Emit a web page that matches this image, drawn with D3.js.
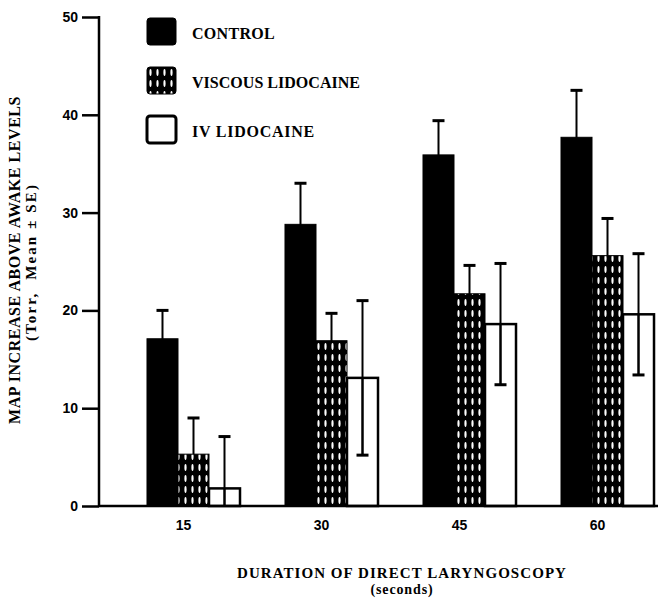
<!DOCTYPE html>
<html>
<head>
<meta charset="utf-8">
<script src="https://cdn.jsdelivr.net/npm/d3@7"></script>
<style>
    body { margin: 0; background: white; }
    text { font-family: "Liberation Serif", serif; font-weight: bold; fill: black; }
</style>
</head>
<body>
<script>
//Variables
    const width = 661;
    const height = 601;

//Data
    const durations = [15, 30, 45, 60];
    const groups = ["CONTROL", "VISCOUS LIDOCAINE", "IV LIDOCAINE"];
    const controlMean = [17.1, 28.8, 35.9, 37.7];
    const controlSE = [2.9, 4.2, 3.5, 4.8];
    const viscousMean = [5.3, 16.9, 21.7, 25.6];
    const viscousSE = [3.7, 2.8, 2.9, 3.8];
    const ivMean = [1.8, 13.1, 18.6, 19.6];
    const ivSE = [5.3, 7.9, 6.2, 6.2];
    const yTicks = [0, 10, 20, 30, 40, 50];

    const means = [controlMean, viscousMean, ivMean];
    const ses = [controlSE, viscousSE, ivSE];
    const data = [];
    durations.forEach((d, i) => {
        groups.forEach((g, j) => {
            data.push({duration: d, group: g, mean: means[j][i], se: ses[j][i]});
        });
    });

//Spread a text's letters so it spans a given width (the scan has wide type)
    const fitSpacing = (sel, target) => {
        sel.each(function() {
            const node = d3.select(this);
            const len = this.getComputedTextLength();
            const n = node.text().length;
            node.style("letter-spacing", `${Math.max(0, (target - len) / n)}px`);
        });
    };

//SVG creation
    const svg = d3.select("body")
        .append("svg")
        .attr("width", width)
        .attr("height", height)
        .style("background-color", "white");

//Pattern for viscous lidocaine
    const defs = svg.append("defs");
    const pattern = defs.append("pattern")
        .attr("id", "dots")
        .attr("patternUnits", "userSpaceOnUse")
        .attr("width", 7)
        .attr("height", 11);
    pattern.append("rect")
        .attr("width", 7)
        .attr("height", 11)
        .attr("fill", "black");
    pattern.append("ellipse")
        .attr("cx", 3.5)
        .attr("cy", 5.5)
        .attr("rx", 1.1)
        .attr("ry", 3.4)
        .attr("fill", "white");

    const fills = {"CONTROL": "black", "VISCOUS LIDOCAINE": "url(#dots)", "IV LIDOCAINE": "white"};

//Scales
    const yScale = d3.scaleLinear()
        .domain([0, 50])
        .range([506, 17]);

    const xScale = d3.scaleBand()
        .domain(durations)
        .range([102, 699])
        .paddingInner(0.326)
        .paddingOuter(0.326);

    const subScale = d3.scaleBand()
        .domain(groups)
        .range([0, xScale.bandwidth()]);

//yAxis
    const yAxis = d3.axisLeft(yScale)
        .tickValues(yTicks)
        .tickSize(17)
        .tickPadding(4);

    const yG = svg.append("g")
        .attr("id", "y-axis")
        .attr("transform", "translate(99, 0)")
        .call(yAxis);
    yG.select(".domain").remove();
    yG.selectAll(".tick line").attr("stroke-width", 2.5);
    yG.selectAll(".tick text")
        .style("font-family", "'Liberation Sans Narrow', 'Liberation Sans', sans-serif")
        .style("font-size", "14px")
        .style("font-weight", "bold");

    svg.append("line")
        .attr("x1", 99).attr("x2", 99)
        .attr("y1", yScale(50) - 1).attr("y2", yScale(0) + 1)
        .attr("stroke", "black")
        .attr("stroke-width", 2.5);

//xAxis
    const xAxis = d3.axisBottom(xScale)
        .tickSize(0)
        .tickPadding(14);

    const xG = svg.append("g")
        .attr("id", "x-axis")
        .attr("transform", `translate(0, ${yScale(0)})`)
        .call(xAxis);
    xG.select(".domain").remove();
    xG.selectAll(".tick text")
        .attr("dx", -10)
        .style("font-family", "'Liberation Sans Narrow', 'Liberation Sans', sans-serif")
        .style("font-size", "14px")
        .style("font-weight", "bold");

//Error bars (behind bars)
    const errG = svg.append("g").attr("id", "errors");
    errG.selectAll("line.err")
        .data(data)
        .enter()
        .append("line")
        .attr("class", "err")
        .attr("x1", d => xScale(d.duration) + subScale(d.group) + subScale.bandwidth() / 2)
        .attr("x2", d => xScale(d.duration) + subScale(d.group) + subScale.bandwidth() / 2)
        .attr("y1", d => yScale(Math.max(0, d.mean - d.se)))
        .attr("y2", d => yScale(d.mean + d.se))
        .attr("stroke", "black")
        .attr("stroke-width", 2);

//Bars
    svg.selectAll("rect.bar")
        .data(data)
        .enter()
        .append("rect")
        .attr("class", "bar")
        .attr("x", d => xScale(d.duration) + subScale(d.group))
        .attr("y", d => yScale(d.mean))
        .attr("width", subScale.bandwidth())
        .attr("height", d => yScale(0) - yScale(d.mean))
        .attr("fill", d => d.group == "IV LIDOCAINE" ? "none" : fills[d.group])
        .attr("stroke", "black")
        .attr("stroke-width", d => d.group == "IV LIDOCAINE" ? 2.5 : 1);

//Error line inside IV bars + caps
    const ivData = data.filter(d => d.group == "IV LIDOCAINE");
    svg.selectAll("line.iverr")
        .data(ivData)
        .enter()
        .append("line")
        .attr("class", "iverr")
        .attr("x1", d => xScale(d.duration) + subScale(d.group) + subScale.bandwidth() / 2)
        .attr("x2", d => xScale(d.duration) + subScale(d.group) + subScale.bandwidth() / 2)
        .attr("y1", d => yScale(Math.max(0, d.mean - d.se)))
        .attr("y2", d => yScale(d.mean))
        .attr("stroke", "black")
        .attr("stroke-width", 2);

    svg.selectAll("line.capTop")
        .data(data)
        .enter()
        .append("line")
        .attr("class", "capTop")
        .attr("x1", d => xScale(d.duration) + subScale(d.group) + subScale.bandwidth() / 2 - 6)
        .attr("x2", d => xScale(d.duration) + subScale(d.group) + subScale.bandwidth() / 2 + 6)
        .attr("y1", d => yScale(d.mean + d.se))
        .attr("y2", d => yScale(d.mean + d.se))
        .attr("stroke", "black")
        .attr("stroke-width", 3);

    svg.selectAll("line.capBottom")
        .data(ivData.filter(d => d.mean - d.se > 0))
        .enter()
        .append("line")
        .attr("class", "capBottom")
        .attr("x1", d => xScale(d.duration) + subScale(d.group) + subScale.bandwidth() / 2 - 6)
        .attr("x2", d => xScale(d.duration) + subScale(d.group) + subScale.bandwidth() / 2 + 6)
        .attr("y1", d => yScale(d.mean - d.se))
        .attr("y2", d => yScale(d.mean - d.se))
        .attr("stroke", "black")
        .attr("stroke-width", 3);

//Baseline
    svg.append("line")
        .attr("x1", 99).attr("x2", 658)
        .attr("y1", yScale(0)).attr("y2", yScale(0))
        .attr("stroke", "black")
        .attr("stroke-width", 2.5);

//Legend
    const legend = svg.append("g").attr("id", "legend");
    const legendItems = legend.selectAll("g")
        .data(groups)
        .enter()
        .append("g")
        .attr("transform", (d, i) => `translate(147, ${18 + i * 49})`);

    legendItems.append("rect")
        .attr("width", 29)
        .attr("height", 27)
        .attr("rx", 3)
        .attr("fill", d => fills[d])
        .attr("stroke", "black")
        .attr("stroke-width", d => d == "IV LIDOCAINE" ? 3 : 1);

    const legendWidths = {"CONTROL": 83, "VISCOUS LIDOCAINE": 168, "IV LIDOCAINE": 123};
    const legendTexts = legendItems.append("text")
        .text(d => d)
        .attr("x", 45)
        .attr("y", 21)
        .attr("font-size", 16);
    legendTexts.each(function(d) { fitSpacing(d3.select(this), legendWidths[d]); });

//Axis titles
    const yTitle = svg.append("text")
        .text("MAP INCREASE ABOVE AWAKE LEVELS")
        .attr("transform", "translate(20, 260) rotate(-90)")
        .attr("text-anchor", "middle")
        .attr("font-size", 16);
    fitSpacing(yTitle, 328);

    const ySub = svg.append("text")
        .text("(Torr,  Mean ± SE)")
        .attr("transform", "translate(36, 262) rotate(-90)")
        .attr("text-anchor", "middle")
        .attr("font-size", 15)
        .style("white-space", "pre");
    fitSpacing(ySub, 158);

    const xTitle = svg.append("text")
        .text("DURATION OF DIRECT LARYNGOSCOPY")
        .attr("x", 402)
        .attr("y", 578)
        .attr("text-anchor", "middle")
        .attr("font-size", 15);
    fitSpacing(xTitle, 330);

    const xSub = svg.append("text")
        .text("(seconds)")
        .attr("x", 402)
        .attr("y", 594)
        .attr("text-anchor", "middle")
        .attr("font-size", 14);
    fitSpacing(xSub, 63);
</script>
</body>
</html>
